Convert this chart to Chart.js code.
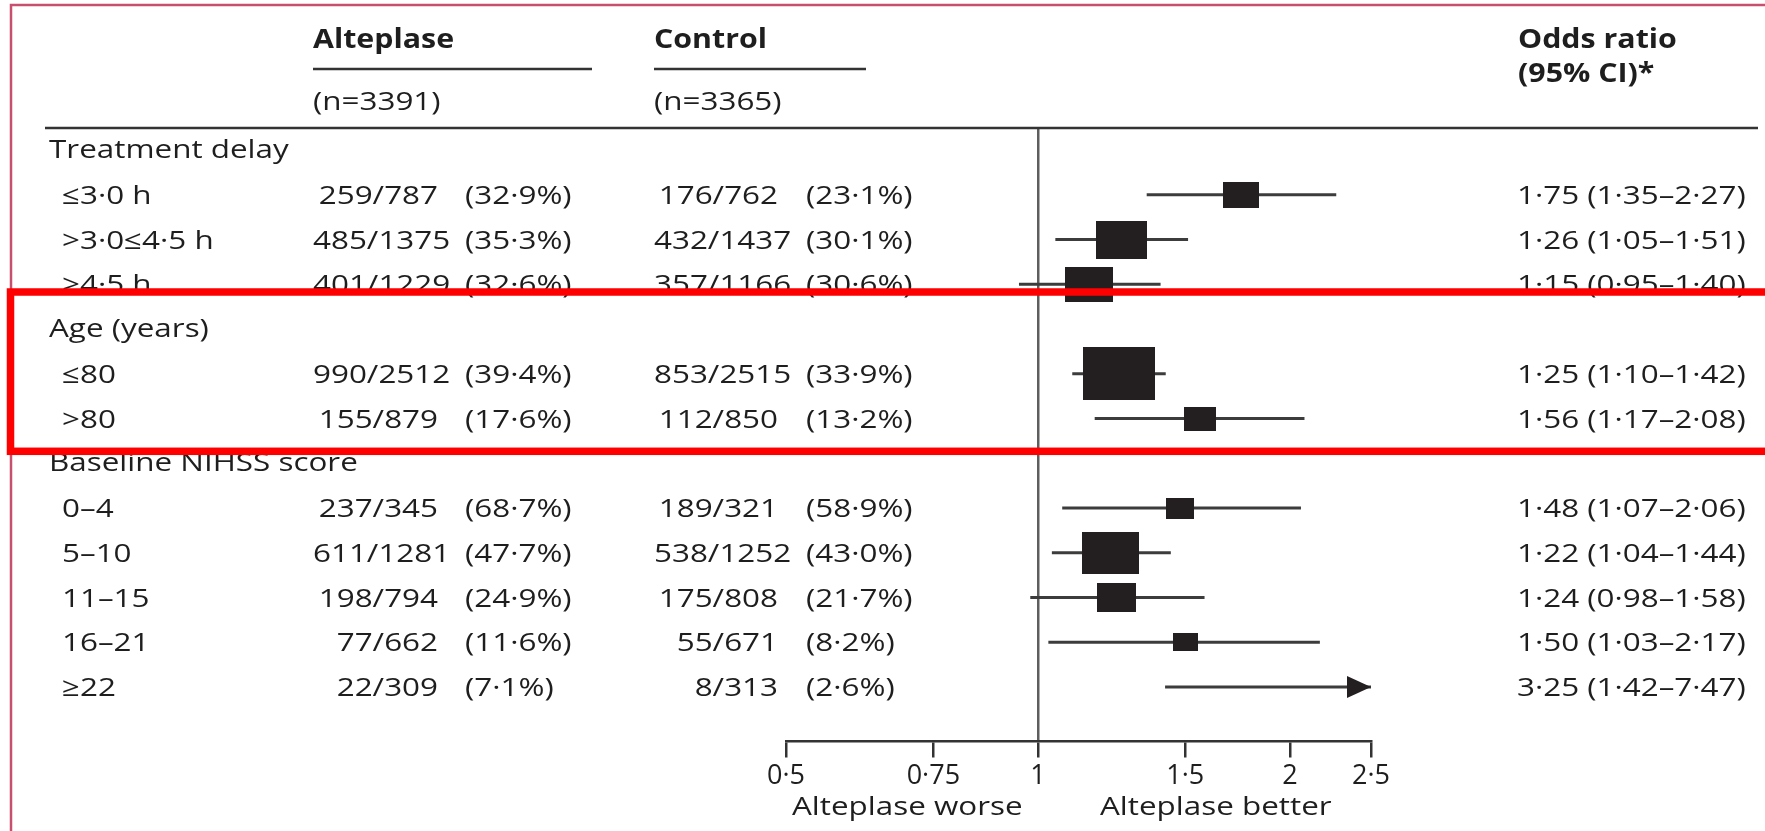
<!DOCTYPE html>
<html>
<head>
<meta charset="utf-8">
<script src="https://cdn.jsdelivr.net/npm/chart.js@4.4.1/dist/chart.umd.min.js"></script>
<style>
html,body{margin:0;padding:0;background:#fff;overflow:hidden}
#wrap{width:1765px;height:831px;position:relative}
canvas{display:block}
</style>
</head>
<body>
<div id="wrap"><canvas id="c" width="1765" height="831"></canvas></div>
<script>
// ---------------- DATA ----------------
const groups = ['Treatment delay', 'Age (years)', 'Baseline NIHSS score'];
const subgroupLabels = ['≤3·0 h', '>3·0≤4·5 h', '>4·5 h', '≤80', '>80', '0–4', '5–10', '11–15', '16–21', '≥22'];
const subgroupGroup = [0, 0, 0, 1, 1, 2, 2, 2, 2, 2];
const alteplaseN = 3391;
const controlN = 3365;
const alteplaseEvents = [259, 485, 401, 990, 155, 237, 611, 198, 77, 22];
const alteplaseTotal  = [787, 1375, 1229, 2512, 879, 345, 1281, 794, 662, 309];
const alteplasePct    = [32.9, 35.3, 32.6, 39.4, 17.6, 68.7, 47.7, 24.9, 11.6, 7.1];
const controlEvents   = [176, 432, 357, 853, 112, 189, 538, 175, 55, 8];
const controlTotal    = [762, 1437, 1166, 2515, 850, 321, 1252, 808, 671, 313];
const controlPct      = [23.1, 30.1, 30.6, 33.9, 13.2, 58.9, 43.0, 21.7, 8.2, 2.6];
const oddsRatio = [1.75, 1.26, 1.15, 1.25, 1.56, 1.48, 1.22, 1.24, 1.50, 3.25];
const ciLow     = [1.35, 1.05, 0.95, 1.10, 1.17, 1.07, 1.04, 0.98, 1.03, 1.42];
const ciHigh    = [2.27, 1.51, 1.40, 1.42, 2.08, 2.06, 1.44, 1.58, 2.17, 7.47];
const axisTicks = [0.5, 0.75, 1, 1.5, 2, 2.5];
const axisLabelLeft = 'Alteplase worse';
const axisLabelRight = 'Alteplase better';

// ---------------- LAYOUT / STYLE ----------------
const W = 1765, H = 831;
const plotLeft = 786, plotRight = 1371, plotTop = 128, plotBottom = 741.5;
const firstRowY = 150, rowPitch = 44.75;
const yMin = -(firstRowY - plotTop) / rowPitch;
const yMax = yMin + (plotBottom - plotTop) / rowPitch;
const FS = 26;
const FONT = '"Open Sans", "Noto Sans", "DejaVu Sans", sans-serif';
const TXT = '#1e1e1e';
const INK = '#231f20';
const boxScale = 4.72;      // px * log-unit : box width = boxScale / SE
const boxAspect = 1.36;     // width / height of the boxes

const fmt = (v, d) => v.toFixed(d).replace('.', '·');

// build table rows (group header + subgroups)
const rowOfSub = [];
const tableRows = [];
let r = 0;
groups.forEach((g, gi) => {
  tableRows.push({ type: 'group', text: g, row: r++ });
  subgroupLabels.forEach((s, si) => {
    if (subgroupGroup[si] === gi) { rowOfSub[si] = r; tableRows.push({ type: 'sub', idx: si, row: r++ }); }
  });
});

// box images sized by inverse standard error
const boxImgs = subgroupLabels.map((s, i) => {
  const se = Math.log(ciHigh[i] / ciLow[i]) / (2 * 1.959964);
  const w = Math.max(6, Math.round(boxScale / se));
  const h = Math.max(5, Math.round(w / boxAspect));
  const c = document.createElement('canvas');
  c.width = w; c.height = h;
  const g = c.getContext('2d');
  g.fillStyle = INK; g.fillRect(0, 0, w, h);
  return c;
});
const arrowImg = (() => {
  const c = document.createElement('canvas');
  c.width = 48; c.height = 22;
  const g = c.getContext('2d');
  g.fillStyle = INK;
  g.beginPath(); g.moveTo(0, 0); g.lineTo(24, 11); g.lineTo(0, 22); g.closePath(); g.fill();
  return c;
})();

// text helpers with horizontal stretch calibrated to the reference widths
let sxReg = 1.2, sxBold = 1.2;
function calib(ctx) {
  const reg = [['Treatment delay', 225], ['1·75 (1·35–2·27)', 234], ['259/787', 123], ['(32·9%)', 115], ['Alteplase worse', 228]];
  const bold = [['Alteplase', 140], ['Odds ratio', 158], ['Control', 115]];
  ctx.save();
  ctx.font = '400 ' + FS + 'px ' + FONT;
  let t = 0, m = 0; reg.forEach(([s, w]) => { t += w; m += ctx.measureText(s).width; });
  sxReg = t / m;
  ctx.font = '700 ' + FS + 'px ' + FONT;
  t = 0; m = 0; bold.forEach(([s, w]) => { t += w; m += ctx.measureText(s).width; });
  sxBold = t / m;
  ctx.restore();
}
function textW(ctx, s, bold) {
  ctx.save(); ctx.font = (bold ? '700 ' : '400 ') + FS + 'px ' + FONT;
  const w = ctx.measureText(s).width * (bold ? sxBold : sxReg);
  ctx.restore(); return w;
}
function txt(ctx, s, x, y, bold) {
  const sx = bold ? sxBold : sxReg;
  ctx.save();
  ctx.font = (bold ? '700 ' : '400 ') + FS + 'px ' + FONT;
  ctx.fillStyle = TXT; ctx.textAlign = 'left'; ctx.textBaseline = 'alphabetic';
  ctx.translate(x, y); ctx.scale(sx, 1); ctx.fillText(s, 0, 0);
  ctx.restore();
}
function hline(ctx, x0, x1, y, w, col) {
  ctx.save(); ctx.strokeStyle = col; ctx.lineWidth = w;
  ctx.beginPath(); ctx.moveTo(x0, y); ctx.lineTo(x1, y); ctx.stroke(); ctx.restore();
}

const tablePlugin = {
  id: 'tablePlugin',
  afterDraw(chart) {
    const ctx = chart.ctx;
    const ys = chart.scales.y;
    calib(ctx);
    // headers
    txt(ctx, 'Alteplase', 313, 48, true);
    txt(ctx, 'Control', 654, 48, true);
    txt(ctx, 'Odds ratio', 1518, 48, true);
    txt(ctx, '(95% CI)*', 1518, 82, true);
    hline(ctx, 313, 592, 69, 2.5, '#333');
    hline(ctx, 654, 866, 69, 2.5, '#333');
    txt(ctx, '(n=' + alteplaseN + ')', 313, 110, false);
    txt(ctx, '(n=' + controlN + ')', 654, 110, false);
    hline(ctx, 45, 1758, plotTop, 2.5, '#333');
    // rows
    tableRows.forEach(row => {
      const base = ys.getPixelForValue(row.row) + 9;
      if (row.type === 'group') { txt(ctx, row.text, 49, base - 1, false); return; }
      const i = row.idx;
      txt(ctx, subgroupLabels[i], 62, base, false);
      const a = alteplaseEvents[i] + '/' + alteplaseTotal[i];
      txt(ctx, a, Math.max(313, 438 - textW(ctx, a, false)), base, false);
      txt(ctx, '(' + fmt(alteplasePct[i], 1) + '%)', 465, base, false);
      const c = controlEvents[i] + '/' + controlTotal[i];
      txt(ctx, c, Math.max(654, 778 - textW(ctx, c, false)), base, false);
      txt(ctx, '(' + fmt(controlPct[i], 1) + '%)', 806, base, false);
      txt(ctx, fmt(oddsRatio[i], 2) + ' (' + fmt(ciLow[i], 2) + '–' + fmt(ciHigh[i], 2) + ')', 1517, base, false);
    });
    // axis captions
    txt(ctx, axisLabelLeft, 792, 815, false);
    txt(ctx, axisLabelRight, 1100, 815, false);
    // page border (crimson)
    ctx.save();
    ctx.strokeStyle = '#c8506e'; ctx.lineWidth = 2.5;
    ctx.beginPath(); ctx.moveTo(11, H + 5); ctx.lineTo(11, 5); ctx.lineTo(W + 5, 5); ctx.stroke();
    // red highlight box
    ctx.strokeStyle = '#ff0000'; ctx.lineWidth = 7.5;
    ctx.strokeRect(10.5, 292, W + 40, 159.3);
    ctx.restore();
  }
};

new Chart(document.getElementById('c'), {
  type: 'scatter',
  data: {
    datasets: [
      {
        type: 'bar', indexAxis: 'y', order: 3,
        data: subgroupLabels.map((s, i) => ({ x: [ciLow[i], ciHigh[i]], y: rowOfSub[i] })),
        backgroundColor: '#3c3c3c', borderWidth: 0, barThickness: 2.5
      },
      {
        type: 'scatter', order: 2, clip: 0,
        data: subgroupLabels.map((s, i) => ({ x: oddsRatio[i], y: rowOfSub[i] })),
        pointStyle: ctx => boxImgs[ctx.dataIndex], pointRadius: 4
      },
      {
        type: 'scatter', order: 1, clip: false,
        data: subgroupLabels.map((s, i) => ciHigh[i] > axisTicks[axisTicks.length - 1] ? { x: axisTicks[axisTicks.length - 1], y: rowOfSub[i] } : null).filter(Boolean),
        pointStyle: arrowImg, pointRadius: 4
      }
    ]
  },
  options: {
    responsive: false, animation: false, events: [],
    devicePixelRatio: 1,
    layout: { padding: { left: plotLeft, right: W - plotRight, top: plotTop, bottom: 0 } },
    plugins: { legend: { display: false }, tooltip: { enabled: false } },
    scales: {
      x: {
        type: 'logarithmic', position: 'bottom', offset: false,
        min: axisTicks[0], max: axisTicks[axisTicks.length - 1],
        afterBuildTicks: s => { s.ticks = axisTicks.map(v => ({ value: v })); },
        afterFit: s => { s.height = H - plotBottom; },
        border: { display: true, color: '#333', width: 2.5 },
        grid: {
          offset: false,
          drawOnChartArea: true, drawTicks: true, tickLength: 16,
          color: c => (c.tick && c.tick.value === 1) ? '#5e5e5e' : 'rgba(0,0,0,0)',
          lineWidth: 2.5, tickColor: '#333', tickWidth: 2.5
        },
        ticks: {
          autoSkip: false, maxRotation: 0, padding: 3, color: TXT,
          font: { family: FONT, size: 27 },
          callback: v => String(v).replace('.', '·')
        }
      },
      y: { type: 'linear', display: false, reverse: true, offset: false, grid: { offset: false }, min: yMin, max: yMax }
    }
  },
  plugins: [tablePlugin]
});
</script>
</body>
</html>
